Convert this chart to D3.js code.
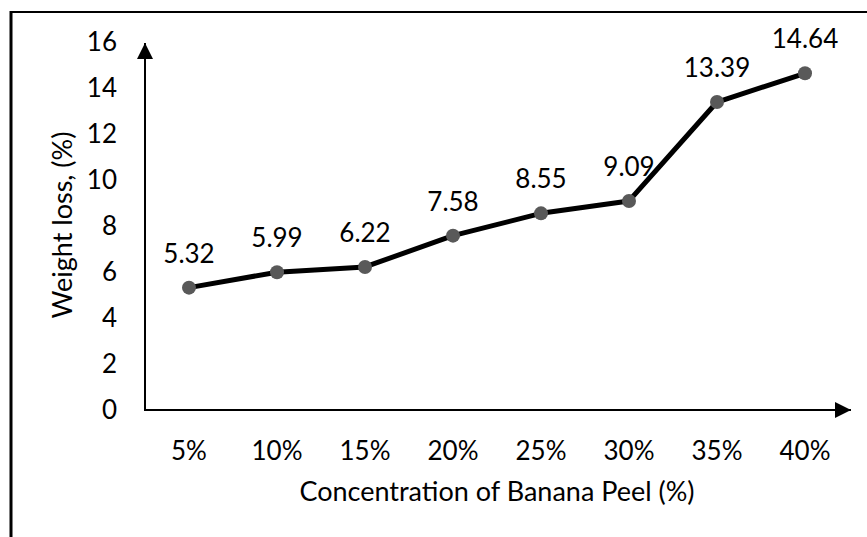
<!DOCTYPE html>
<html>
<head>
<meta charset="utf-8">
<script src="https://cdn.jsdelivr.net/npm/d3@7"></script>
<style>
  body { margin: 0; background: #fff; }
  svg text { font-family: Lato, "Open Sans", sans-serif; fill: #000; }
</style>
</head>
<body>
<svg id="chart" width="867" height="537"></svg>
<script>
// Chart data
const categories = ["5%", "10%", "15%", "20%", "25%", "30%", "35%", "40%"];
const weightLoss = [5.32, 5.99, 6.22, 7.58, 8.55, 9.09, 13.39, 14.64];
const yTicks = [0, 2, 4, 6, 8, 10, 12, 14, 16];

const svg = d3.select("#chart");
const margin = { left: 145, top: 42, bottom: 410 };
const fontSize = 26;

// Frame lines (left and top only are visible)
svg.append("line").attr("x1", 11).attr("x2", 11).attr("y1", 11).attr("y2", 537)
  .attr("stroke", "#000").attr("stroke-width", 3);
svg.append("line").attr("x1", 10).attr("x2", 867).attr("y1", 12).attr("y2", 12)
  .attr("stroke", "#000").attr("stroke-width", 2);

const x = d3.scaleBand().domain(categories).range([145, 849]);
const y = d3.scaleLinear().domain([0, 16]).range([margin.bottom, margin.top]);

// Arrow markers
const defs = svg.append("defs");
defs.append("marker")
  .attr("id", "arrow")
  .attr("viewBox", "0 0 10 10")
  .attr("refX", 10).attr("refY", 5)
  .attr("markerWidth", 8).attr("markerHeight", 8)
  .attr("markerUnits", "strokeWidth")
  .attr("orient", "auto")
  .append("path").attr("d", "M0,0L10,5L0,10Z").attr("fill", "#000");

// Axis lines
svg.append("line")
  .attr("x1", 145).attr("x2", 145)
  .attr("y1", margin.bottom + 1).attr("y2", 43)
  .attr("stroke", "#000").attr("stroke-width", 2)
  .attr("marker-end", "url(#arrow)");
svg.append("line")
  .attr("x1", 144).attr("x2", 851)
  .attr("y1", margin.bottom).attr("y2", margin.bottom)
  .attr("stroke", "#000").attr("stroke-width", 2)
  .attr("marker-end", "url(#arrow)");

// Y tick labels
svg.append("g")
  .selectAll("text")
  .data(yTicks)
  .enter()
  .append("text")
  .attr("x", 117)
  .attr("y", (d) => y(d))
  .attr("dy", "0.35em")
  .attr("text-anchor", "end")
  .attr("font-size", fontSize)
  .text((d) => d);

// X tick labels
svg.append("g")
  .selectAll("text")
  .data(categories)
  .enter()
  .append("text")
  .attr("x", (d) => x(d) + x.bandwidth() / 2)
  .attr("y", 451)
  .attr("dy", "0.35em")
  .attr("text-anchor", "middle")
  .attr("font-size", fontSize)
  .text((d) => d);

// Axis titles
svg.append("text")
  .attr("x", 497).attr("y", 492).attr("dy", "0.35em")
  .attr("text-anchor", "middle").attr("font-size", 27)
  .text("Concentration of Banana Peel (%)");
svg.append("text")
  .attr("transform", "translate(63,225) rotate(-90)")
  .attr("dy", "0.35em")
  .attr("text-anchor", "middle").attr("font-size", 27)
  .text("Weight loss, (%)");

// Series line
const line = d3.line()
  .x((d, i) => x(categories[i]) + x.bandwidth() / 2)
  .y((d) => y(d));

svg.append("path")
  .datum(weightLoss)
  .attr("d", line)
  .attr("fill", "none")
  .attr("stroke", "#000")
  .attr("stroke-width", 5)
  .attr("stroke-linejoin", "round");

// Markers
svg.append("g")
  .selectAll("circle")
  .data(weightLoss)
  .enter()
  .append("circle")
  .attr("cx", (d, i) => x(categories[i]) + x.bandwidth() / 2)
  .attr("cy", (d) => y(d))
  .attr("r", 7)
  .attr("fill", "#595959");

// Data labels
svg.append("g")
  .selectAll("text")
  .data(weightLoss)
  .enter()
  .append("text")
  .attr("x", (d, i) => x(categories[i]) + x.bandwidth() / 2)
  .attr("y", (d) => y(d) - 34)
  .attr("dy", "0.35em")
  .attr("text-anchor", "middle")
  .attr("font-size", fontSize)
  .text((d) => d.toFixed(2));
</script>
</body>
</html>
